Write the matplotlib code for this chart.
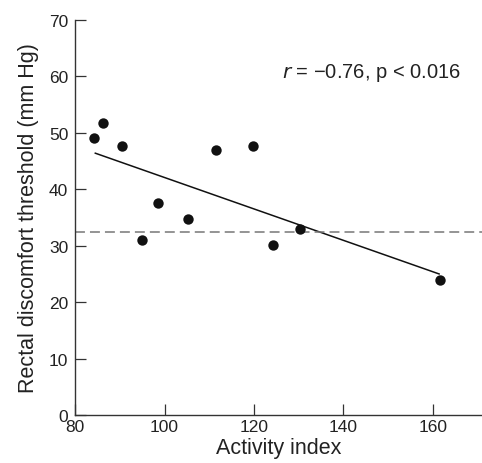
import matplotlib

matplotlib.use("Agg")
import matplotlib.pyplot as plt
import numpy as np

activity = [84.2, 86.3, 90.5, 95.0, 98.5, 105.3, 111.4, 119.8, 124.3, 130.3, 161.5]
threshold = [49.1, 51.7, 47.7, 31.1, 37.5, 34.8, 47.0, 47.7, 30.2, 33.0, 24.0]
fit_x = [84.5, 161.4]
fit_y = [46.4, 25.0]
reference_level = 32.5
x_ticks = [80, 100, 120, 140, 160]
y_ticks = [0, 10, 20, 30, 40, 50, 60, 70]

plt.rcParams["font.family"] = ["Liberation Sans", "DejaVu Sans"]

fig = plt.figure(figsize=(4.82, 4.64), dpi=100)
ax = fig.add_axes([0.156, 0.1034, 0.844, 0.8513])

ax.scatter(activity, threshold, s=56, color="#111111", zorder=3, linewidths=0)
ax.plot(fit_x, fit_y, color="#111111", lw=1.1)
ax.axhline(reference_level, color="#777777", lw=1.1, ls=(0, (6.5, 3.3)))

ax.set_xlim(80, 171)
ax.set_ylim(0, 70)
ax.set_xticks(x_ticks)
ax.set_yticks(y_ticks)
for spine in ("top", "right"):
    ax.spines[spine].set_visible(False)
for spine in ("left", "bottom"):
    ax.spines[spine].set_color("#333333")
    ax.spines[spine].set_linewidth(1.0)
ax.tick_params(direction="in", length=8, width=0.9, color="#333333",
               labelsize=12.5, labelcolor="#222222")
ax.tick_params(axis="y", pad=5)
ax.tick_params(axis="x", pad=3)

ax.set_xlabel("Activity index", fontsize=15.5, color="#222222", labelpad=2)
ax.set_ylabel("Rectal discomfort threshold (mm Hg)", fontsize=15.5,
              color="#222222", labelpad=7)
ax.text(126.3, 60.8, r"$r$ = −0.76, p < 0.016", fontsize=14.5, color="#222222",
        va="center", ha="left")

fig.savefig("out.png", dpi=100)
